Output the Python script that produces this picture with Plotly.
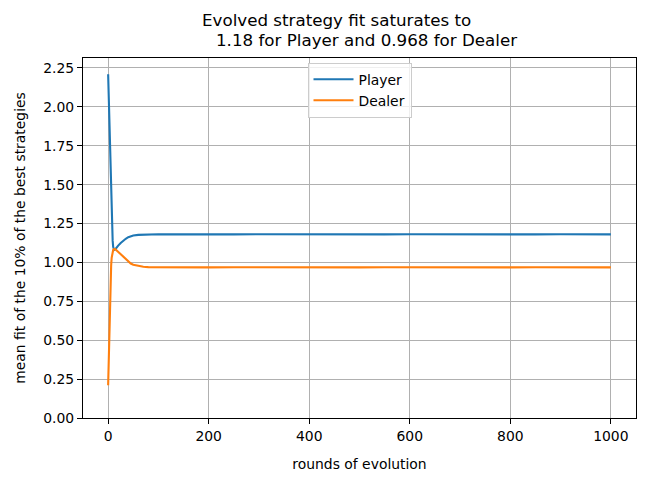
import plotly.graph_objects as go

# ---- data ----
rounds = [0, 1, 2, 3, 4, 5, 6, 7, 8, 9, 10, 11, 12, 14, 16, 20, 25, 30, 35, 40, 45, 50,
          60, 70, 80, 100, 125, 150, 175, 200, 250, 300, 350, 400, 450, 500, 550,
          600, 650, 700, 750, 800, 850, 900, 950, 1000]

player = [2.21, 2.07, 1.93, 1.80, 1.67, 1.54, 1.42, 1.31, 1.21, 1.14, 1.10, 1.085, 1.080,
          1.083, 1.093, 1.108, 1.125, 1.140, 1.152, 1.162, 1.169, 1.173,
          1.177, 1.179, 1.180, 1.181, 1.180, 1.181, 1.180, 1.181, 1.180, 1.181,
          1.180, 1.181, 1.180, 1.181, 1.180, 1.181, 1.180, 1.181, 1.180, 1.181,
          1.180, 1.181, 1.180, 1.180]

dealer = [0.21, 0.37, 0.52, 0.66, 0.79, 0.90, 0.98, 1.03, 1.06, 1.075, 1.080, 1.084, 1.086,
          1.085, 1.080, 1.068, 1.053, 1.037, 1.020, 1.005, 0.993, 0.985,
          0.977, 0.972, 0.970, 0.969, 0.968, 0.969, 0.968, 0.968, 0.969, 0.968,
          0.968, 0.969, 0.968, 0.968, 0.969, 0.968, 0.968, 0.969, 0.968, 0.968,
          0.969, 0.968, 0.968, 0.968]

x_ticks = [0, 200, 400, 600, 800, 1000]
y_ticks = [0.00, 0.25, 0.50, 0.75, 1.00, 1.25, 1.50, 1.75, 2.00, 2.25]

title_line1 = "Evolved strategy fit saturates to"
title_line2 = "1.18 for Player and 0.968 for Dealer"

FONT = "DejaVu Sans"
W, H = 653, 480
L, R, T, B = 83, 17, 58, 62
plot_h = H - T - B
plot_w = W - L - R

fig = go.Figure()
fig.add_trace(go.Scatter(x=rounds, y=player, mode="lines", name="Player",
                         line=dict(color="#1f77b4", width=2.1)))
fig.add_trace(go.Scatter(x=rounds, y=dealer, mode="lines", name="Dealer",
                         line=dict(color="#ff7f0e", width=2.1)))

axis_common = dict(
    showgrid=True, gridcolor="#b0b0b0", gridwidth=1.1,
    showline=True, linecolor="black", linewidth=1.1, mirror=True,
    ticks="outside", ticklen=5, tickwidth=1.1, tickcolor="black",
    zeroline=False, automargin=False,
    tickfont=dict(family=FONT, size=13.9, color="black"),
)

fig.update_xaxes(range=[-50, 1050], tickvals=x_ticks,
                 title=dict(text="rounds of evolution",
                            font=dict(family=FONT, size=13.9, color="black"),
                            standoff=16),
                 **axis_common)
fig.update_yaxes(range=[0, 2.314], tickvals=y_ticks, tickformat=".2f",
                 title=dict(text="mean fit of the 10% of the best strategies",
                            font=dict(family=FONT, size=13.9, color="black"),
                            standoff=14),
                 **axis_common)

fig.add_annotation(text=title_line1, xref="paper", yref="paper",
                   x=(200 - L) / plot_w, y=(H - B - 20.5) / plot_h,
                   xanchor="left", yanchor="middle", showarrow=False,
                   font=dict(family=FONT, size=16.7, color="black"))
fig.add_annotation(text=title_line2, xref="paper", yref="paper",
                   x=(214 - L) / plot_w, y=(H - B - 40.5) / plot_h,
                   xanchor="left", yanchor="middle", showarrow=False,
                   font=dict(family=FONT, size=16.7, color="black"))

fig.update_layout(
    width=W, height=H,
    margin=dict(l=L, r=R, t=T, b=B, autoexpand=False),
    paper_bgcolor="white", plot_bgcolor="white",
    font=dict(family=FONT, size=13.9, color="black"),
    showlegend=True,
    legend=dict(x=0.5, xanchor="center", y=0.987, yanchor="top",
                itemwidth=40,
                bgcolor="rgba(255,255,255,0.8)", bordercolor="#cccccc",
                borderwidth=1, font=dict(family=FONT, size=13.9, color="black")),
)

fig.write_html("out.html", config={"displayModeBar": False},
               post_script="document.body.style.margin='0';document.body.style.padding='0';")
